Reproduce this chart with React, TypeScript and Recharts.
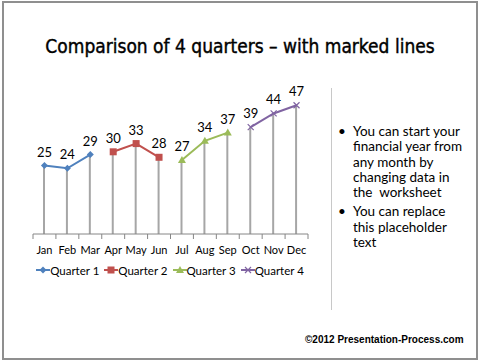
import React from "react";
import { Bar, ComposedChart, LabelList, Legend, Line, XAxis, YAxis } from "recharts";

const MONTHS = ["Jan", "Feb", "Mar", "Apr", "May", "Jun", "Jul", "Aug", "Sep", "Oct", "Nov", "Dec"];
const QUARTER_1 = [25, 24, 29];
const QUARTER_2 = [30, 33, 28];
const QUARTER_3 = [27, 34, 37];
const QUARTER_4 = [39, 44, 47];
const QUARTER_NAMES = ["Quarter 1", "Quarter 2", "Quarter 3", "Quarter 4"];

const SERIES = [
  { key: "q1", name: QUARTER_NAMES[0], values: QUARTER_1, color: "#4F81BD", marker: "diamond" },
  { key: "q2", name: QUARTER_NAMES[1], values: QUARTER_2, color: "#C0504D", marker: "square" },
  { key: "q3", name: QUARTER_NAMES[2], values: QUARTER_3, color: "#9BBB59", marker: "triangle" },
  { key: "q4", name: QUARTER_NAMES[3], values: QUARTER_4, color: "#8064A2", marker: "cross" },
];

const ALL_VALUES = [...QUARTER_1, ...QUARTER_2, ...QUARTER_3, ...QUARTER_4];

const rows = MONTHS.map((month, i) => {
  const row: Record<string, string | number | null> = { month, total: ALL_VALUES[i] };
  SERIES.forEach((s, q) => {
    row[s.key] = Math.floor(i / 3) === q ? s.values[i % 3] : null;
  });
  return row;
});

const CHART_W = 320;
const CHART_H = 300;
const MARGIN = { top: 97, right: 12, left: 33, bottom: 16 };
const LEGEND_H = 16;
const XAXIS_H = 34;
const AXIS_Y = CHART_H - MARGIN.bottom - LEGEND_H - XAXIS_H;
const BAND = (CHART_W - MARGIN.left - MARGIN.right) / MONTHS.length;
const FONT = "Lato, 'Open Sans', sans-serif";

function Marker({ type, color, x, y }: { type: string; color: string; x: number; y: number }) {
  if (type === "diamond") {
    return <path d={`M${x},${y - 3.5}L${x + 3.5},${y}L${x},${y + 3.5}L${x - 3.5},${y}Z`} fill={color} />;
  }
  if (type === "square") {
    return <rect x={x - 3.5} y={y - 3.5} width={7} height={7} fill={color} />;
  }
  if (type === "triangle") {
    return <path d={`M${x},${y - 4}L${x + 4},${y + 3}L${x - 4},${y + 3}Z`} fill={color} />;
  }
  return (
    <path d={`M${x - 3},${y - 3}L${x + 3},${y + 3}M${x - 3},${y + 3}L${x + 3},${y - 3}`} stroke={color} strokeWidth={1.2} />
  );
}

const makeDot = (type: string, color: string) => (props: any) => {
  const { cx, cy, value, index } = props;
  if (value == null || !Number.isFinite(cx) || !Number.isFinite(cy)) return <g key={`d${index}`} />;
  return <Marker key={`d${index}`} type={type} color={color} x={cx} y={cy} />;
};

// ticks sit on the category boundaries, labels in the middle
function MonthTick(props: any) {
  const { x, payload, index } = props;
  return (
    <g>
      <line x1={x - BAND / 2} x2={x - BAND / 2} y1={AXIS_Y} y2={AXIS_Y + 5} stroke="#868686" />
      {index === MONTHS.length - 1 && (
        <line x1={x + BAND / 2} x2={x + BAND / 2} y1={AXIS_Y} y2={AXIS_Y + 5} stroke="#868686" />
      )}
      <text x={x} y={AXIS_Y + 20} textAnchor="middle" fontSize={11} fontFamily={FONT} fill="#000">
        {payload.value}
      </text>
    </g>
  );
}

function QuarterLegend({ payload }: any) {
  return (
    <div
      style={{
        display: "flex",
        justifyContent: "center",
        alignItems: "center",
        height: LEGEND_H,
        whiteSpace: "nowrap",
        fontFamily: FONT,
        fontSize: 11.5,
        color: "#000",
      }}
    >
      {(payload || []).map((entry: any) => {
        const s = SERIES.find((item) => item.key === entry.dataKey);
        if (!s) return null;
        return (
          <span key={s.key} style={{ display: "inline-flex", alignItems: "center", marginRight: 5 }}>
            <svg width={14} height={10}>
              <line x1={0} x2={14} y1={5} y2={5} stroke={s.color} strokeWidth={2} />
              <Marker type={s.marker} color={s.color} x={7} y={5} />
            </svg>
            {entry.value}
          </span>
        );
      })}
    </div>
  );
}

export default function App() {
  return (
    <div style={{ position: "fixed", left: 0, top: 0, width: 480, height: 362, background: "#fff", overflow: "hidden" }}>
      <div
        style={{
          position: "absolute",
          left: 2,
          top: 1,
          width: 472,
          height: 355,
          border: "2px solid #8f8f8f",
        }}
      />
      <div
        style={{
          position: "absolute",
          left: 0,
          top: 35,
          width: 480,
          textAlign: "center",
          fontFamily: "'DejaVu Sans Condensed', sans-serif",
          fontSize: 19,
          WebkitTextStroke: "0.4px #000",
          color: "#000",
        }}
      >
        Comparison of 4 quarters – with marked lines
      </div>
      <div style={{ position: "absolute", left: 331, top: 88, width: 1, height: 222, background: "#c8c8c8" }} />
      <div
        style={{
          position: "absolute",
          left: 338,
          top: 124,
          fontFamily: FONT,
          fontSize: 13.5,
          lineHeight: "15.3px",
          color: "#000",
          whiteSpace: "nowrap",
        }}
      >
        <div style={{ position: "relative", paddingLeft: 15 }}>
          <span style={{ position: "absolute", left: 0 }}>•</span>
          You can start your
          <br />
          financial year from
          <br />
          any month by
          <br />
          changing data in
          <br />
          the&nbsp; worksheet
        </div>
        <div style={{ position: "relative", paddingLeft: 15, marginTop: 4 }}>
          <span style={{ position: "absolute", left: 0 }}>•</span>
          You can replace
          <br />
          this placeholder
          <br />
          text
        </div>
      </div>
      <div
        style={{
          position: "absolute",
          left: 305,
          top: 334,
          fontFamily: "'Liberation Sans', Arial, sans-serif",
          fontWeight: "bold",
          fontSize: 10,
          color: "#000",
          whiteSpace: "nowrap",
        }}
      >
        ©2012 Presentation-Process.com
      </div>
      <div style={{ position: "absolute", left: 0, top: 0 }}>
        <ComposedChart width={CHART_W} height={CHART_H} data={rows} margin={MARGIN}>
          <XAxis
            dataKey="month"
            stroke="#868686"
            tickLine={false}
            tickSize={0}
            tickMargin={0}
            height={XAXIS_H}
            interval={0}
            tick={<MonthTick />}
          />
          <YAxis hide domain={[0, 50]} />
          <Bar dataKey="total" fill="#a6a6a6" barSize={2} legendType="none" isAnimationActive={false} />
          {SERIES.map((s) => (
            <Line
              key={s.key}
              dataKey={s.key}
              name={s.name}
              stroke={s.color}
              strokeWidth={2}
              dot={makeDot(s.marker, s.color)}
              activeDot={false}
              isAnimationActive={false}
            >
              <LabelList dataKey={s.key} position="top" offset={9} fontSize={13} fontFamily={FONT} fill="#000" />
            </Line>
          ))}
          <Legend
            verticalAlign="bottom"
            wrapperStyle={{ left: 0, width: 345, bottom: 22 }}
            content={<QuarterLegend />}
          />
        </ComposedChart>
      </div>
    </div>
  );
}
